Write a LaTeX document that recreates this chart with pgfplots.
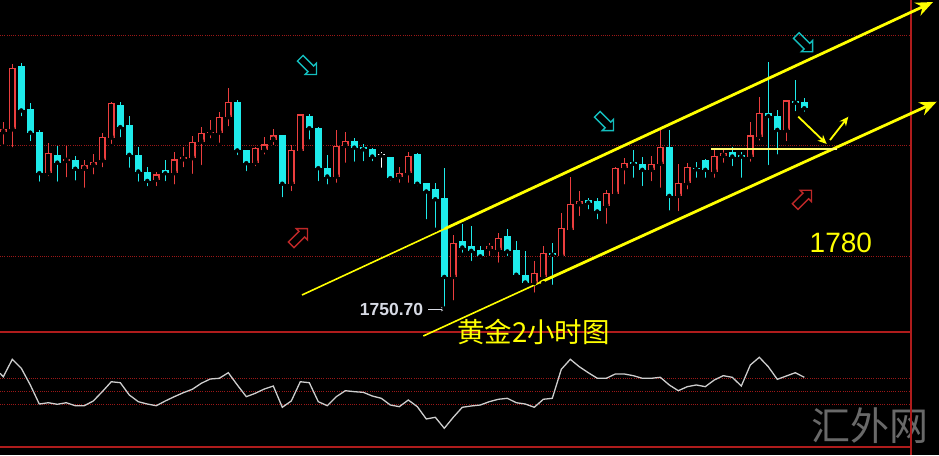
\documentclass[border=0pt]{standalone}
\usepackage{pgfplots}
\pgfplotsset{compat=1.18}
\usepackage{pgfplotstable}
\usepackage{fontspec}
\setmainfont{Liberation Sans}
\newfontfamily\cjk{Noto Sans CJK SC}
\usetikzlibrary{arrows.meta,shapes.arrows}

\definecolor{upred}{RGB}{235,62,62}
\definecolor{downcyan}{RGB}{30,235,235}
\definecolor{gridred}{RGB}{155,24,24}
\definecolor{framered}{RGB}{175,28,28}
\definecolor{trendyellow}{RGB}{255,255,0}
\definecolor{paleyellow}{RGB}{255,250,110}
\definecolor{oscgray}{RGB}{205,205,205}
\definecolor{arrowcyan}{RGB}{20,190,190}
\definecolor{arrowred}{RGB}{190,40,40}
\definecolor{labelgray}{RGB}{215,218,228}
\definecolor{wmgray}{RGB}{105,105,105}

% two-hour gold candles: index, open, high, low, close
\pgfplotstableread{
i  o      h      l      c
1  1782.5 1784.4 1779.9 1783.0
2  1783.0 1794.7 1779.4 1794.1
6  1775.1 1780.6 1774.2 1778.7
8  1777.3 1780.0 1774.0 1777.7
10 1775.9 1777.4 1772.1 1776.5
11 1776.5 1778.5 1774.5 1777.1
12 1777.4 1782.4 1775.8 1781.7
13 1781.5 1788.0 1780.0 1787.7
18 1773.9 1775.4 1772.4 1774.9
20 1775.1 1779.0 1772.7 1777.6
21 1777.6 1779.8 1775.8 1778.0
22 1777.8 1781.8 1774.6 1780.8
23 1780.8 1783.4 1776.2 1782.4
24 1782.3 1784.7 1781.0 1782.6
25 1782.4 1786.2 1780.2 1785.2
26 1785.2 1790.4 1783.2 1787.9
29 1777.0 1779.8 1776.0 1779.6
30 1779.2 1781.7 1778.1 1780.3
31 1781.1 1783.0 1779.8 1781.9
33 1773.2 1780.2 1771.5 1779.3
34 1779.1 1785.7 1778.7 1785.7
38 1774.5 1782.9 1773.0 1780.0
39 1780.0 1782.6 1776.6 1780.9
45 1774.4 1776.3 1773.0 1775.1
46 1775.1 1778.9 1773.0 1778.2
51 1756.4 1764.0 1751.8 1762.6
55 1761.5 1762.5 1759.8 1761.9
56 1761.3 1764.3 1758.6 1763.4
60 1755.3 1759.2 1753.2 1757.1
61 1756.4 1761.9 1755.3 1760.7
63 1760.1 1767.9 1759.8 1765.3
64 1764.9 1774.4 1764.6 1769.5
65 1769.5 1771.8 1767.0 1770.1
68 1769.2 1772.1 1765.6 1771.5
69 1771.4 1776.3 1770.9 1776.0
70 1776.0 1777.8 1772.7 1776.9
73 1775.7 1778.2 1773.3 1776.8
74 1776.8 1782.9 1772.1 1779.8
76 1771.0 1776.8 1767.9 1773.3
77 1773.3 1776.9 1771.8 1776.3
80 1775.4 1779.3 1773.9 1778.2
81 1778.2 1779.3 1776.6 1778.7
84 1778.1 1784.4 1776.8 1781.9
85 1781.7 1788.8 1780.6 1786.0
88 1782.8 1788.3 1780.5 1788.2
}\upbars

\pgfplotstableread{
i  o      h      l      c
3  1794.4 1794.9 1785.0 1786.4
4  1786.6 1787.7 1780.5 1782.4
5  1782.6 1782.8 1773.2 1775.1
7  1778.4 1780.0 1773.2 1777.0
9  1777.4 1778.2 1773.4 1775.9
14 1787.4 1788.0 1781.2 1783.4
15 1783.8 1785.4 1775.7 1778.4
16 1778.4 1779.8 1773.2 1775.4
17 1775.4 1776.2 1772.4 1773.7
19 1775.7 1777.4 1773.3 1775.1
27 1788.0 1788.3 1778.0 1779.2
28 1779.3 1779.3 1775.1 1776.9
32 1781.9 1782.0 1770.4 1773.2
35 1785.4 1785.8 1780.8 1783.2
36 1783.2 1783.4 1773.3 1776.0
37 1776.0 1778.4 1772.7 1774.5
40 1780.9 1781.4 1776.8 1779.7
41 1779.8 1780.4 1776.9 1779.4
42 1779.4 1779.6 1776.9 1778.1
44 1778.0 1778.1 1773.4 1774.2
47 1778.5 1778.7 1772.4 1773.2
48 1773.3 1773.3 1766.4 1771.8
49 1772.3 1773.3 1764.9 1770.4
50 1770.6 1776.0 1750.7 1756.4
52 1762.8 1765.9 1760.4 1761.7
53 1762.0 1765.5 1758.9 1761.1
54 1761.3 1762.0 1759.3 1760.1
57 1763.7 1765.0 1759.8 1761.0
58 1761.3 1762.8 1756.4 1756.8
59 1756.8 1761.1 1755.3 1755.4
62 1760.8 1762.5 1754.6 1760.4
66 1770.3 1770.6 1768.2 1769.8
67 1770.1 1770.6 1766.4 1768.2
71 1777.1 1779.3 1773.9 1776.8
72 1776.8 1778.1 1772.4 1775.7
75 1779.8 1782.9 1768.0 1771.0
78 1776.1 1777.2 1773.9 1775.8
79 1777.4 1777.6 1773.9 1775.7
82 1779.0 1779.9 1776.0 1778.1
83 1778.4 1779.0 1773.9 1778.1
86 1786.0 1795.2 1776.2 1785.4
87 1785.4 1786.5 1778.1 1782.9
89 1788.1 1791.9 1785.9 1787.8
90 1788.0 1788.6 1785.8 1786.8
}\downbars

\pgfplotstableread{
i  o      h      l      c
43 1778.4 1779.0 1775.7 1778.4
}\dojibars

% oscillator line of the lower pane
\pgfplotstableread{
i v
0.633 78.8
1 73.5
2 100.3
3 86.5
4 60.8
5 31.5
6 33.5
7 31.1
8 33.5
9 28.9
10 28.9
11 36.2
12 50.5
13 65.8
14 64.3
15 45.4
16 35.1
17 31.5
18 28.9
19 36.2
20 42.8
21 48.9
22 54.2
23 63.4
24 70.0
25 71.1
26 79.7
27 60.8
28 42.8
29 48.0
30 54.6
31 59.2
32 26.5
33 36.2
34 65.8
35 64.3
36 35.1
37 28.9
38 42.8
39 52.0
40 50.5
41 49.5
42 43.8
43 40.3
44 30.0
45 27.4
46 37.7
47 27.4
48 8.5
49 11.1
50 -5.8
51 11.1
52 26.5
53 28.5
54 30.0
55 35.1
56 38.8
57 40.3
58 33.5
59 31.5
60 26.5
61 38.8
62 40.3
63 84.9
64 100.3
65 88.9
66 79.7
67 71.1
68 71.1
69 77.7
70 77.7
71 75.1
72 71.1
73 71.1
74 72.6
75 60.8
76 52.0
77 58.2
78 60.8
79 58.2
80 68.5
81 75.1
82 72.6
83 59.2
84 91.5
85 103.4
86 88.9
87 69.5
88 74.6
89 79.7
90 72.6
}\osc

\tikzset{
  dotgrid/.style={gridred, line width=1pt, dash pattern=on 1pt off 1.2pt},
  solidgrid/.style={framered, line width=1.5pt},
  blockarrow/.style={single arrow, draw=#1, line width=1.4pt, minimum height=23pt,
    single arrow head extend=4pt, single arrow tip angle=90,
    inner xsep=0pt, inner ysep=3.3pt},
}
% each bar is one upward error bar from its base value
\pgfplotsset{
  panel/.style={scale only axis, width=939pt, xmin=0.6333, xmax=104.967,
    axis lines=none, clip=false, anchor=south west},
  bars/.style 2 args={only marks, mark=none,
    error bars/.cd, y dir=plus, y explicit, error mark=none,
    error bar style={#1, line width=#2}},
}

\begin{document}
\begin{tikzpicture}
\fill[black] (0,0) rectangle (939pt,455pt);

% ---------- price pane ----------
\begin{axis}[panel, at={(0,123pt)}, height=332pt, ymin=1746.48, ymax=1806.31]
  \draw[dotgrid] (axis cs:0.6333,1800) -- (axis cs:101.86,1800);
  \draw[dotgrid] (axis cs:0.6333,1780) -- (axis cs:101.86,1780);
  \draw[dotgrid] (axis cs:0.6333,1760) -- (axis cs:101.86,1760);

  % wicks
  \addplot[bars={upred}{1.2pt}] table[x=i, y=l,
     y error expr={\thisrow{h}-\thisrow{l}}] {\upbars};
  \addplot[bars={downcyan}{1.2pt}] table[x=i, y=l,
     y error expr={\thisrow{h}-\thisrow{l}}] {\downbars};
  \addplot[bars={white}{1.2pt}] table[x=i, y=l,
     y error expr={\thisrow{h}-\thisrow{l}}] {\dojibars};
  % bodies: hollow red for rising bars, solid cyan for falling bars
  \addplot[bars={upred}{6.4pt}] table[x=i, y=o,
     y error expr={max(\thisrow{c}-\thisrow{o},0.2)}] {\upbars};
  \addplot[bars={black}{4pt}] table[x=i, y expr={\thisrow{o}+0.22},
     y error expr={max(\thisrow{c}-\thisrow{o}-0.44,0)}] {\upbars};
  \addplot[bars={downcyan}{6.4pt}] table[x=i, y=c,
     y error expr={max(\thisrow{o}-\thisrow{c},0.2)}] {\downbars};
  \addplot[bars={white}{6.4pt}] table[x=i, y expr={\thisrow{c}-0.1},
     y error expr={0.2}] {\dojibars};

  \draw[solidgrid] (axis cs:0.6333,1746.48) -- (axis cs:101.86,1746.48);
  \draw[solidgrid] (axis cs:101.86,1746.48) -- (axis cs:101.86,1806.31);

  % rising channel
  \draw[trendyellow, line width=1.6pt] (axis cs:34.19,1753.15) -- (axis cs:50.08,1765.1);
  \draw[trendyellow, line width=2.8pt, -{Stealth[length=17pt,width=14pt]}]
     (axis cs:50.08,1765.1) -- (axis cs:104.3,1805.95);
  \draw[trendyellow, line width=1.6pt] (axis cs:47.67,1745.76) -- (axis cs:60.63,1755.4);
  \draw[trendyellow, line width=2.8pt, -{Stealth[length=17pt,width=14pt]}]
     (axis cs:60.63,1755.4) -- (axis cs:104.71,1787.98);
  % support level and expected path
  \draw[paleyellow, line width=2pt] (axis cs:79.67,1779.4) -- (axis cs:93.63,1779.4);
  \draw[trendyellow, line width=1.8pt, -{Stealth[length=9pt,width=8pt]}]
     (axis cs:89.33,1785.28) -- (axis cs:92.49,1780.36);
  \draw[trendyellow, line width=1.8pt, -{Stealth[length=9pt,width=8pt]}]
     (axis cs:92.86,1781.08) -- (axis cs:94.89,1785.28);

  % hollow direction arrows
  \node[blockarrow=arrowcyan, rotate=-45] at (axis cs:34.74,1794.6) {};
  \node[blockarrow=arrowcyan, rotate=-45] at (axis cs:89.86,1798.7) {};
  \node[blockarrow=arrowcyan, rotate=-45] at (axis cs:67.74,1784.5) {};
  \node[blockarrow=arrowred, rotate=45] at (axis cs:33.74,1763.4) {};
  \node[blockarrow=arrowred, rotate=45] at (axis cs:89.74,1770.3) {};

  % labels
  \node[anchor=east, inner sep=0pt, text=labelgray,
    font=\fontsize{17.5}{19}\selectfont\bfseries] at (axis cs:47.67,1750.6) {1750.70};
  \draw[labelgray, line width=1pt, -{Stealth[length=4pt,width=4.5pt]}]
    (axis cs:48.19,1750.6) -- (axis cs:50.08,1750.6);
  \node[anchor=west, inner sep=0pt, text=trendyellow,
    font=\cjk\fontsize{27.5}{30}\selectfont] at (axis cs:51.4,1746.4) {黄金2小时图};
  \node[anchor=west, inner sep=0pt, text=trendyellow,
    font=\fontsize{28}{30}\selectfont] at (axis cs:90.58,1762.6) {1780};
\end{axis}

% ---------- oscillator pane ----------
\begin{axis}[panel, at={(0,0)}, height=123pt, ymin=-46.93, ymax=142.31]
  \node[anchor=west, inner sep=0pt, text=wmgray,
    font=\cjk\fontsize{39}{41}\selectfont] at (axis cs:90.82,-1.5) {汇外网};
  \draw[dotgrid] (axis cs:0.6333,70) -- (axis cs:101.86,70);
  \draw[dotgrid] (axis cs:0.6333,50) -- (axis cs:101.86,50);
  \draw[dotgrid] (axis cs:0.6333,30) -- (axis cs:101.86,30);
  \draw[solidgrid] (axis cs:0.6333,-34.62) -- (axis cs:101.86,-34.62);
  \draw[solidgrid] (axis cs:101.86,-46.93) -- (axis cs:101.86,142.31);
  \addplot[oscgray, line width=1.3pt] table[x=i, y=v] {\osc};
\end{axis}

\pgfresetboundingbox
\useasboundingbox (0,0) rectangle (939pt,455pt);
\end{tikzpicture}
\end{document}
